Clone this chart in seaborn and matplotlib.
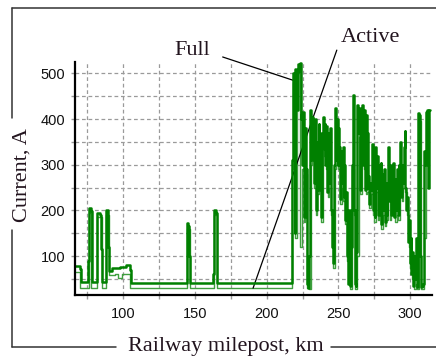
import numpy as np
import pandas as pd
import matplotlib
matplotlib.use("Agg")
import matplotlib.pyplot as plt
from matplotlib.lines import Line2D
import seaborn as sns

# ---------------- data ----------------
full_km_early = [66.3, 69.6, 70.4, 75.6, 76.0, 77.2, 78.3, 81.9, 83.6, 84.6, 85.4,
                 88.1, 89.2, 90.3, 92.0, 98.0, 102.0, 104.6, 105.2,
                 144.3, 145.3, 145.9, 146.6, 162.8, 163.4, 164.5, 165.1]
full_val_early = [79, 72, 43, 90, 205, 198, 43, 195, 190, 115, 43,
                  200, 120, 68, 75, 77, 80, 70, 41,
                  172, 165, 100, 41, 60, 200, 195, 41]

full_val_dense = [
    310, 500, 470, 150, 510, 480, 420, 520, 505, 522,
    400, 410, 300, 415, 185, 380, 290, 200, 40, 30,
    100, 420, 310, 405, 330, 395, 260, 400, 200, 350,
    245, 390, 300, 370, 185, 340, 405, 335, 390, 300,
    385, 240, 370, 260, 380, 300, 200, 120, 85, 300,
    425, 310, 400, 300, 380, 340, 225, 330, 260, 340,
    230, 300, 180, 240, 100, 40, 200, 60, 35, 120,
    300, 453, 200, 40, 35, 110, 430, 370, 425, 245,
    420, 380, 430, 300, 420, 245, 410, 370, 250, 275,
    215, 260, 245, 345, 200, 330, 185, 340, 250, 320,
    190, 300, 220, 305, 170, 280, 200, 290, 175, 260,
    190, 250, 340, 220, 300, 190, 280, 210, 305, 185,
    270, 200, 290, 190, 300, 250, 350, 230, 300, 260,
    340, 375, 250, 200, 230, 130, 180, 85, 140, 60,
    110, 35, 100, 50, 140, 32, 150, 413, 410, 100,
    32, 35, 40, 150, 330, 300, 415, 420, 250, 420, 420]
full_km_dense = list(np.linspace(217.6, 313.6, len(full_val_dense)))

active_km_early = [66.3, 69.8, 75.8, 77.6, 81.8, 84.9, 87.9, 89.9, 94.0, 96.5,
                   99.0, 104.9, 144.2, 146.8, 163.3, 165.3]
active_val_early = [65, 30, 195, 30, 185, 30, 190, 58, 60, 52,
                    62, 30, 160, 30, 190, 30]

active_val_dense = [
    290, 480, 140, 500, 505, 120, 290, 175, 280, 30,
    28, 300, 320, 250, 190, 235, 290, 175, 330, 320,
    290, 230, 250, 190, 75, 290, 300, 290, 215, 250,
    220, 170, 90, 190, 28, 290, 190, 28, 100, 360,
    235, 370, 290, 235, 240, 205, 235, 190, 175, 240,
    180, 210, 160, 190, 165, 180, 240, 180, 200, 230,
    175, 190, 180, 240, 220, 250, 240, 190, 120, 75,
    50, 28, 40, 28, 395, 28, 28, 140, 300, 405, 405]
active_km_dense = list(np.linspace(217.4, 313.4, len(active_val_dense)))

full_df = pd.DataFrame({"km": full_km_early + full_km_dense,
                        "current": full_val_early + full_val_dense})
active_df = pd.DataFrame({"km": active_km_early + active_km_dense,
                          "current": active_val_early + active_val_dense})

x_ticks = [100, 150, 200, 250, 300]
x_minor = [75, 125, 175, 225, 275]
y_ticks = [100, 200, 300, 400, 500]
y_minor = [50, 150, 250, 350, 450]

# ---------------- figure ----------------
sns.set_style("white")
plt.rcParams["font.family"] = ["Liberation Sans", "DejaVu Sans"]

W, H = 436, 359
fig = plt.figure(figsize=(W / 100, H / 100), dpi=100)
ax = fig.add_axes([75 / W, 1 - 295 / H, (432 - 75) / W, (295 - 62) / H])

sns.lineplot(data=active_df, x="km", y="current", ax=ax, sort=False,
             estimator=None, drawstyle="steps-post", color="#3f9f3f",
             linewidth=1.0, zorder=3)
sns.lineplot(data=full_df, x="km", y="current", ax=ax, sort=False,
             estimator=None, drawstyle="steps-post", color="#008000",
             linewidth=1.8, zorder=4)

ax.set_xlim(66.3, 315.3)
ax.set_ylim(15, 525)
ax.set_xticks(x_ticks)
ax.set_xticks(x_minor, minor=True)
ax.set_yticks(y_ticks)
ax.set_yticks(y_minor, minor=True)
ax.set_xlabel("")
ax.set_ylabel("")

ax.grid(True, which="both", color="#9a9a9a", linestyle=(0, (3, 2.2)),
        linewidth=0.9, zorder=1)
for side in ["top", "right"]:
    ax.spines[side].set_visible(False)
for side in ["left", "bottom"]:
    ax.spines[side].set_color("black")
    ax.spines[side].set_linewidth(1.6)
    ax.spines[side].set_zorder(5)

ax.tick_params(which="both", direction="out", length=3, width=1,
               color="#9a9a9a", left=True, bottom=True)
ax.tick_params(axis="both", which="major", labelsize=10.5, labelcolor="#111111")
ax.tick_params(axis="y", pad=4)
ax.tick_params(axis="x", pad=6)

# annotations
ax.annotate("", xy=(218.4, 485), xytext=(169.3, 536),
            arrowprops=dict(arrowstyle="-", color="black", lw=0.9,
                            shrinkA=0, shrinkB=0), annotation_clip=False)
ax.annotate("", xy=(190.5, 30), xytext=(248.9, 551),
            arrowprops=dict(arrowstyle="-", color="black", lw=0.9,
                            shrinkA=0, shrinkB=0), annotation_clip=False)

serif = ["Liberation Serif", "DejaVu Serif"]
tcol = "#22141e"
fig.text(192 / W, 1 - 55 / H, "Full", family=serif, fontsize=16, color=tcol,
         ha="center", va="baseline")
fig.text(370 / W, 1 - 41.7 / H, "Active", family=serif, fontsize=16, color=tcol,
         ha="center", va="baseline")
fig.text(226 / W, 1 - 351 / H, "Railway milepost, km", family=serif,
         fontsize=16, color=tcol, ha="center", va="baseline")
fig.text(22 / W, 1 - 175.5 / H, "Current, A", family=serif, fontsize=16,
         color=tcol, rotation=90, ha="center", va="center")

# outer bracket frame
fc = "#333333"
flw = 1.1
def fline(x0, y0, x1, y1):
    fig.add_artist(Line2D([x0 / W, x1 / W], [1 - y0 / H, 1 - y1 / H],
                          transform=fig.transFigure, color=fc, lw=flw))
fline(12, 8, 436, 8)
fline(12, 8, 12, 118)
fline(12, 230, 12, 347)
fline(12, 347, 116, 347)
fline(331, 347, 436, 347)

fig.savefig("out.png", dpi=100)
